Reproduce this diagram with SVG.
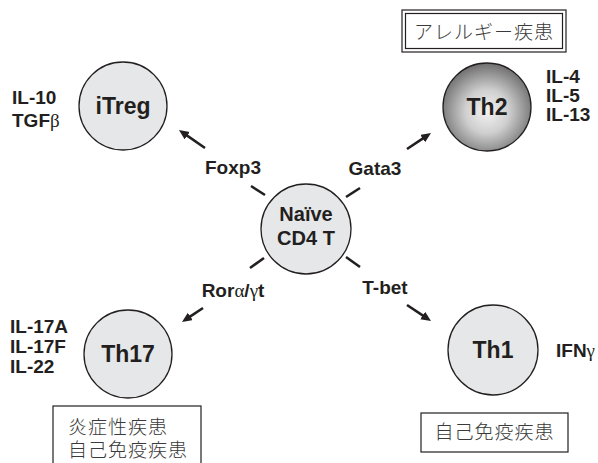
<svg xmlns="http://www.w3.org/2000/svg" width="598" height="463" viewBox="0 0 598 463">
  <style>
    .cell { fill: #e6e7e8; stroke: #231f20; stroke-width: 1.3; }
    .name { font-family: "Liberation Sans", Arial, sans-serif; font-weight: bold; fill: #231f20; text-anchor: middle; }
    .lbl { font-family: "Liberation Sans", Arial, sans-serif; font-weight: bold; font-size: 19px; fill: #231f20; }
    .greek { font-family: "Liberation Serif", "DejaVu Serif", serif; font-weight: normal; }
    .jp { font-family: "Noto Sans CJK JP", sans-serif; font-weight: 300; font-size: 19px; fill: #3a3a3a; letter-spacing: 1px; }
    .box { fill: #ffffff; stroke: #231f20; stroke-width: 1.2; }
    .link { stroke: #231f20; stroke-width: 2.6; fill: none; }
  </style>
  <defs>
    <marker id="head" markerUnits="userSpaceOnUse" markerWidth="11" markerHeight="10" refX="4" refY="4.5" orient="auto">
      <path d="M0,0 L10,4.5 L0,9 z" fill="#231f20"/>
    </marker>
    <radialGradient id="th2fill" cx="0.5" cy="0.55" r="0.55">
      <stop offset="0" stop-color="#f3f3f3"/>
      <stop offset="0.45" stop-color="#cfcfcf"/>
      <stop offset="1" stop-color="#6e6e6e"/>
    </radialGradient>
  </defs>

  <!-- connectors: short stubs at the centre cell, arrows toward each subset -->
  <g id="connectors">
    <line class="link" x1="251" y1="186" x2="265" y2="195"/>
    <line class="link" x1="346" y1="197" x2="360" y2="188"/>
    <line class="link" x1="250" y1="268" x2="264" y2="258"/>
    <line class="link" x1="346" y1="257" x2="360" y2="267"/>
    <line class="link" x1="205" y1="148" x2="183.9" y2="133.4" marker-end="url(#head)"/>
    <line class="link" x1="407" y1="149" x2="426" y2="136.3" marker-end="url(#head)"/>
    <line class="link" x1="203" y1="308" x2="187" y2="318.7" marker-end="url(#head)"/>
    <line class="link" x1="407" y1="305" x2="426" y2="317.7" marker-end="url(#head)"/>
    <text class="lbl" x="233" y="174" text-anchor="middle">Foxp3</text>
    <text class="lbl" x="375" y="175" text-anchor="middle">Gata3</text>
    <text class="lbl" x="233" y="297" text-anchor="middle">Ror<tspan class="greek">α</tspan>/<tspan class="greek">γ</tspan>t</text>
    <text class="lbl" x="385" y="294" text-anchor="middle">T-bet</text>
  </g>

  <g id="naive">
    <circle class="cell" cx="306" cy="229" r="45" fill="#ebebec"/>
    <text class="name" x="306" y="221" font-size="20">Naïve</text>
    <text class="name" x="306" y="245" font-size="20">CD4 T</text>
  </g>

  <g id="itreg">
    <circle class="cell" cx="123" cy="106" r="44"/>
    <text class="name" x="123" y="114" font-size="23">iTreg</text>
    <text class="lbl" x="12" y="104">IL-10</text>
    <text class="lbl" x="12" y="127">TGF<tspan class="greek">β</tspan></text>
  </g>

  <g id="th2">
    <circle cx="487" cy="107" r="44" fill="url(#th2fill)" stroke="#231f20" stroke-width="1.3"/>
    <text class="name" x="487" y="115" font-size="23">Th2</text>
    <text class="lbl" x="546" y="83">IL-4</text>
    <text class="lbl" x="546" y="102">IL-5</text>
    <text class="lbl" x="546" y="121">IL-13</text>
  </g>

  <g id="th2-disease">
    <rect class="box" x="402" y="10" width="164" height="42"/>
    <rect class="box" x="405.5" y="13.5" width="157" height="35"/>
    <text class="jp" x="484" y="39" text-anchor="middle">アレルギー疾患</text>
  </g>

  <g id="th17">
    <circle class="cell" cx="128" cy="354" r="44"/>
    <text class="name" x="128" y="362" font-size="23">Th17</text>
    <text class="lbl" x="10" y="333">IL-17A</text>
    <text class="lbl" x="10" y="353">IL-17F</text>
    <text class="lbl" x="10" y="373">IL-22</text>
  </g>

  <g id="th17-disease">
    <rect class="box" x="53" y="406" width="148" height="70"/>
    <text class="jp" x="68" y="434">炎症性疾患</text>
    <text class="jp" x="68" y="457">自己免疫疾患</text>
  </g>

  <g id="th1">
    <circle class="cell" cx="493" cy="350" r="45"/>
    <text class="name" x="493" y="358" font-size="23">Th1</text>
    <text class="lbl" x="556" y="357">IFN<tspan class="greek">γ</tspan></text>
  </g>

  <g id="th1-disease">
    <rect class="box" x="421" y="413" width="147" height="39"/>
    <text class="jp" x="494.5" y="439" text-anchor="middle">自己免疫疾患</text>
  </g>
</svg>
